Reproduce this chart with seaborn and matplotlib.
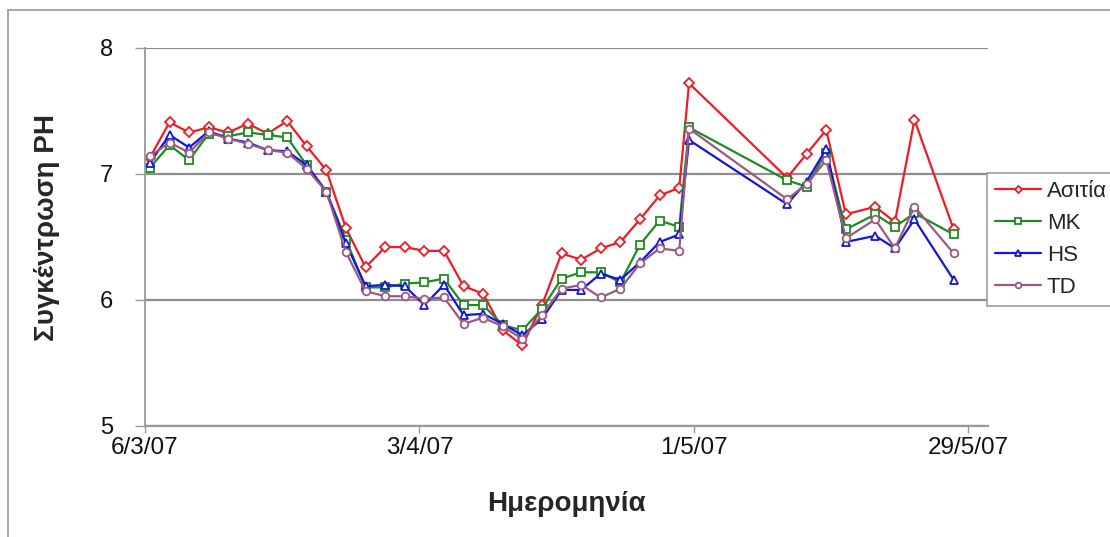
import pandas as pd
import matplotlib.pyplot as plt
from matplotlib.lines import Line2D
import seaborn as sns

# sampling dates (d/m/Y)
dates = [
    "6/3/2007", "8/3/2007", "10/3/2007", "12/3/2007", "14/3/2007", "16/3/2007",
    "18/3/2007", "20/3/2007", "22/3/2007", "24/3/2007", "26/3/2007", "28/3/2007",
    "30/3/2007", "1/4/2007", "3/4/2007", "5/4/2007", "7/4/2007", "9/4/2007",
    "11/4/2007", "13/4/2007", "15/4/2007", "17/4/2007", "19/4/2007", "21/4/2007",
    "23/4/2007", "25/4/2007", "27/4/2007", "29/4/2007", "30/4/2007", "10/5/2007",
    "12/5/2007", "14/5/2007", "16/5/2007", "19/5/2007", "21/5/2007", "23/5/2007",
    "27/5/2007",
]

asitia = [7.13, 7.41, 7.33, 7.37, 7.33, 7.40, 7.32, 7.42, 7.22, 7.03, 6.57, 6.26,
          6.42, 6.42, 6.39, 6.39, 6.11, 6.05, 5.76, 5.64, 5.96, 6.37, 6.32, 6.41,
          6.46, 6.64, 6.83, 6.89, 7.72, 6.97, 7.16, 7.35, 6.68, 6.74, 6.62, 7.43,
          6.56]
mk = [7.05, 7.23, 7.11, 7.32, 7.30, 7.33, 7.31, 7.29, 7.07, 6.86, 6.48, 6.10,
      6.10, 6.13, 6.14, 6.17, 5.96, 5.96, 5.80, 5.76, 5.93, 6.17, 6.22, 6.22,
      6.14, 6.44, 6.63, 6.58, 7.37, 6.95, 6.90, 7.17, 6.56, 6.68, 6.58, 6.69,
      6.52]
hs = [7.09, 7.31, 7.21, 7.34, 7.28, 7.25, 7.19, 7.18, 7.07, 6.86, 6.45, 6.11,
      6.12, 6.11, 5.96, 6.12, 5.88, 5.89, 5.81, 5.72, 5.85, 6.08, 6.08, 6.21,
      6.16, 6.30, 6.46, 6.52, 7.27, 6.76, 6.94, 7.20, 6.46, 6.51, 6.41, 6.64,
      6.16]
td = [7.14, 7.25, 7.17, 7.33, 7.28, 7.24, 7.19, 7.17, 7.04, 6.86, 6.38, 6.07,
      6.03, 6.03, 6.01, 6.02, 5.81, 5.86, 5.79, 5.69, 5.88, 6.09, 6.12, 6.02,
      6.09, 6.29, 6.41, 6.39, 7.36, 6.80, 6.92, 7.11, 6.49, 6.64, 6.41, 6.74,
      6.37]

series_names = ["Ασιτία", "MK", "HS", "TD"]
series_values = [asitia, mk, hs, td]
colors = ["#ee1c24", "#1f8a24", "#1414dc", "#9a5a80"]
markers = ["D", "s", "^", "o"]

tick_dates = ["6/3/2007", "3/4/2007", "1/5/2007", "29/5/2007"]
tick_labels = ["6/3/07", "3/4/07", "1/5/07", "29/5/07"]

# Excel date axis puts each point in the middle of its day
x = pd.to_datetime(dates, dayfirst=True) + pd.Timedelta(hours=12)

sns.set_style("white")
plt.rcParams["font.family"] = ["Liberation Sans", "DejaVu Sans"]

fig = plt.figure(figsize=(11.1, 5.37), dpi=100)
ax = fig.add_axes([145 / 1110, 1 - 426 / 537, 843 / 1110, 378 / 537])

for name, vals, col, mk_ in zip(series_names, series_values, colors, markers):
    df = pd.DataFrame({"date": x, "ph": vals})
    sns.lineplot(
        data=df, x="date", y="ph", ax=ax, color=col, label=name,
        marker=mk_, markersize=5.5 if mk_ != "D" else 4.8,
        markerfacecolor="white", markeredgecolor=col, markeredgewidth=1.3,
        linewidth=1.6,
    )

ax.set_ylim(5, 8)
ax.set_xlim(pd.Timestamp("2007-03-06"), pd.Timestamp("2007-05-31"))
ax.set_yticks([5, 6, 7, 8])
ax.set_xticks(pd.to_datetime(tick_dates, dayfirst=True))
ax.set_xticklabels(tick_labels)

ax.yaxis.grid(True, color="#8e8e8e", linewidth=1.6)
ax.set_axisbelow(True)
for s in ["top", "right"]:
    ax.spines[s].set_visible(False)
ax.spines["left"].set_color("#9a9a9a")
ax.spines["left"].set_linewidth(1.3)
ax.spines["bottom"].set_color("#9a9a9a")
ax.spines["bottom"].set_linewidth(1.6)

ax.tick_params(axis="y", which="major", length=7, width=1, color="#9a9a9a",
               pad=16, labelsize=17, labelcolor="#111111", left=True)
ax.tick_params(axis="x", which="major", length=5, width=1, color="#9a9a9a",
               pad=3, labelsize=17.5, labelcolor="#111111", bottom=True)

ax.set_ylabel("Συγκέντρωση PH", fontsize=20, fontweight="bold")
ax.set_xlabel("Ημερομηνία", fontsize=20, fontweight="bold")
ax.yaxis.set_label_coords(-0.101, 0.524)
ax.xaxis.set_label_coords(0.5, -0.172)

leg = ax.legend(
    loc="upper left", bbox_to_anchor=(0.9988, 0.669), fontsize=16,
    frameon=True, fancybox=False, edgecolor="#8e8e8e", borderpad=0.35,
    handlelength=2.1, handletextpad=0.25, labelspacing=0.5, borderaxespad=0,
    markerscale=0.75,
)
leg.get_frame().set_linewidth(1.3)

# chart-area border (Excel)
fig.add_artist(Line2D([8 / 1110, 8 / 1110], [0, 1 - 10 / 537],
                      transform=fig.transFigure, color="#a0a0a0", linewidth=1.3))
fig.add_artist(Line2D([8 / 1110, 1], [1 - 10 / 537, 1 - 10 / 537],
                      transform=fig.transFigure, color="#a0a0a0", linewidth=1.3))

fig.savefig("out.png", dpi=100)
plt.close(fig)
